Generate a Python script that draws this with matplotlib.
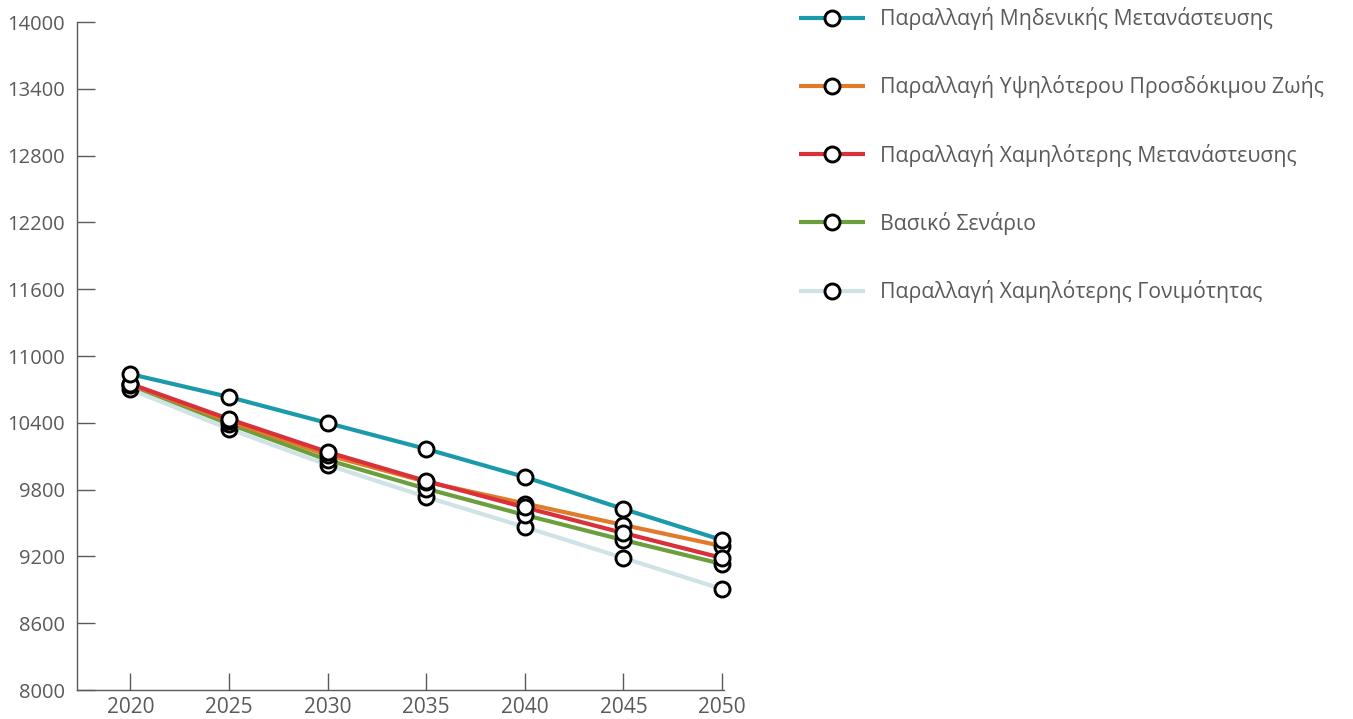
import matplotlib.pyplot as plt

plt.rcParams['font.family'] = ['Open Sans', 'DejaVu Sans']

years = [2020, 2025, 2030, 2035, 2040, 2045, 2050]
y_ticks = [8000, 8600, 9200, 9800, 10400, 11000, 11600, 12200, 12800, 13400, 14000]

# πληθυσμός (χιλιάδες) ανά σενάριο
zero_migration = [10838, 10632, 10398, 10165, 9913, 9626, 9347]
higher_life_exp = [10745, 10416, 10110, 9870, 9675, 9482, 9293]
lower_migration = [10750, 10434, 10138, 9877, 9640, 9410, 9186]
baseline = [10740, 10390, 10066, 9808, 9572, 9347, 9132]
lower_fertility = [10700, 10345, 10021, 9734, 9464, 9186, 8907]

labels = [
    "Παραλλαγή Μηδενικής Μετανάστευσης",
    "Παραλλαγή Υψηλότερου Προσδόκιμου Ζωής",
    "Παραλλαγή Χαμηλότερης Μετανάστευσης",
    "Βασικό Σενάριο",
    "Παραλλαγή Χαμηλότερης Γονιμότητας",
]
colors = ["#1a9aab", "#e07b2b", "#d9303a", "#6a9f3b", "#cfe2e6"]
series = [zero_migration, higher_life_exp, lower_migration, baseline, lower_fertility]

grey = "#5a5a5a"

fig = plt.figure(figsize=(13.53, 7.19), dpi=100)
ax = fig.add_axes([77 / 1353, 1 - 690 / 719, 647 / 1353, 668 / 719])

# σειρά σχεδίασης: η ανοιχτόχρωμη από κάτω, η κόκκινη πάνω από την πορτοκαλί
draw_order = [4, 3, 1, 2, 0]
handles = {}
for i in draw_order:
    h, = ax.plot(years, series[i], color=colors[i], lw=3.0,
                 marker='o', markersize=10.8, markerfacecolor='white',
                 markeredgecolor='black', markeredgewidth=2.1,
                 label=labels[i], solid_capstyle='butt', clip_on=False)
    handles[i] = h

ax.set_xlim(2017.3, 2050.1)
ax.set_ylim(8000, 14000)
ax.set_xticks(years)
ax.set_yticks(y_ticks)

for side in ['top', 'right']:
    ax.spines[side].set_visible(False)
for side in ['left', 'bottom']:
    ax.spines[side].set_color(grey)
    ax.spines[side].set_linewidth(1.0)

ax.tick_params(axis='x', direction='in', length=12.5, width=1.0, color=grey,
               labelsize=15, labelcolor=grey, pad=5)
ax.tick_params(axis='y', direction='in', length=13, width=1.0, color=grey,
               labelsize=14.5, labelcolor=grey, pad=9)

fig.legend([handles[i] for i in range(5)], labels,
           loc='upper left', bbox_to_anchor=(799 / 1353, 1 - 7 / 719),
           frameon=False, fontsize=15.3, labelcolor=grey,
           handlelength=3.1, handletextpad=0.7, labelspacing=2.13,
           borderpad=0, borderaxespad=0)

fig.savefig("out.png", dpi=100)
